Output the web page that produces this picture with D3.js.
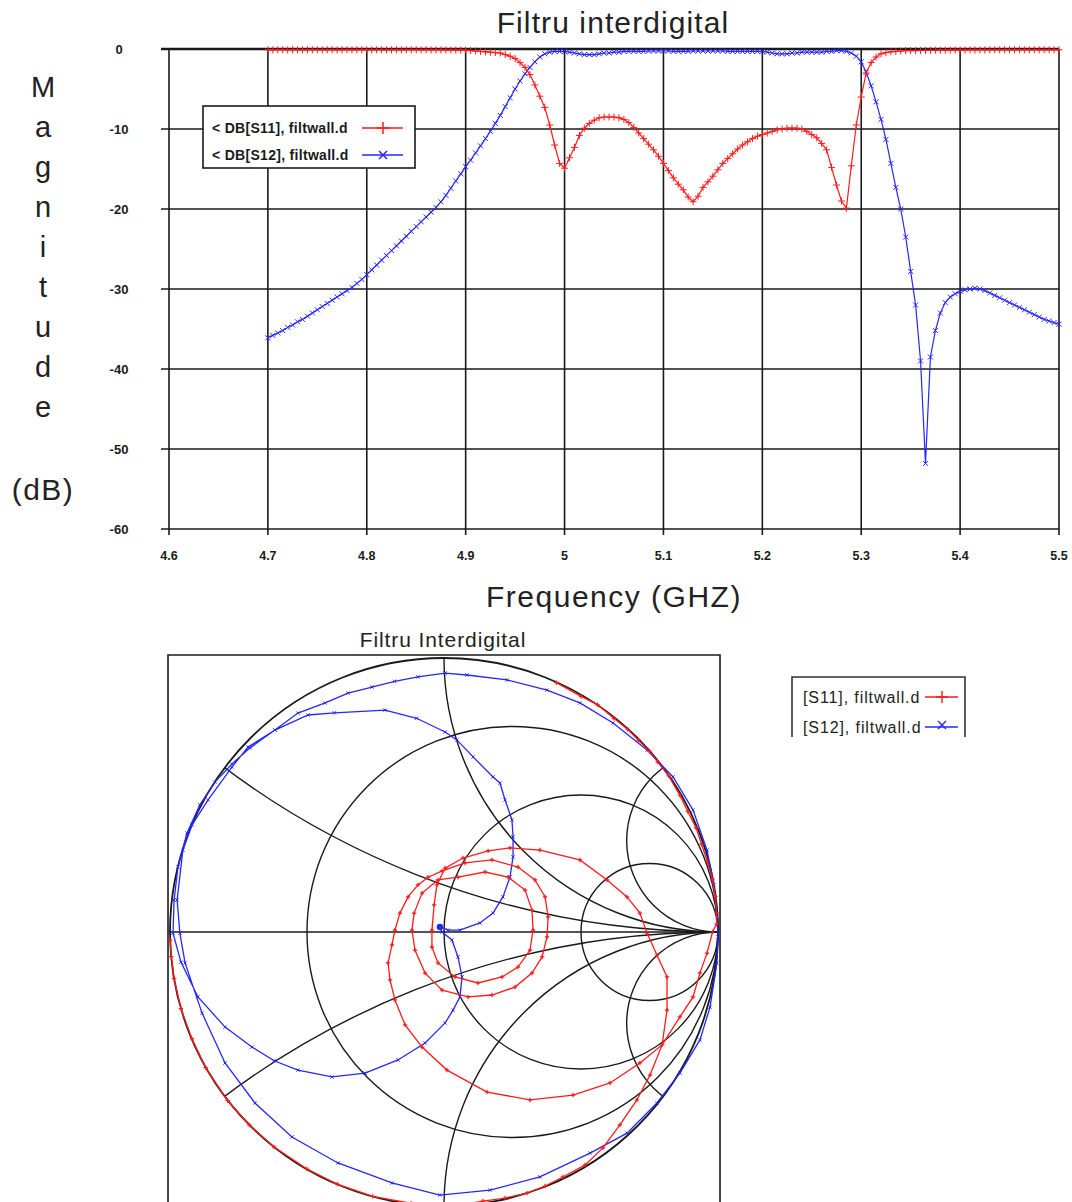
<!DOCTYPE html>
<html><head><meta charset="utf-8">
<script src="https://cdn.jsdelivr.net/npm/d3@7"></script>
<style>body{margin:0;background:#fff}svg{display:block}text{font-family:"Liberation Sans",Arial,sans-serif}</style>
</head><body><svg id="c" width="1072" height="1202"></svg>
<script>
// ---------- DATA ----------
const freq=[
4.700,4.705,4.710,4.715,4.720,4.725,4.730,4.735,4.740,4.745,
4.750,4.755,4.760,4.765,4.770,4.775,4.780,4.785,4.790,4.795,
4.800,4.805,4.810,4.815,4.820,4.825,4.830,4.835,4.840,4.845,
4.850,4.855,4.860,4.865,4.870,4.875,4.880,4.885,4.890,4.895,
4.900,4.905,4.910,4.915,4.920,4.925,4.930,4.935,4.940,4.945,
4.950,4.955,4.960,4.965,4.970,4.975,4.980,4.985,4.990,4.995,
5.000,5.005,5.010,5.015,5.020,5.025,5.030,5.035,5.040,5.045,
5.050,5.055,5.060,5.065,5.070,5.075,5.080,5.085,5.090,5.095,
5.100,5.105,5.110,5.115,5.120,5.125,5.130,5.135,5.140,5.145,
5.150,5.155,5.160,5.165,5.170,5.175,5.180,5.185,5.190,5.195,
5.200,5.205,5.210,5.215,5.220,5.225,5.230,5.235,5.240,5.245,
5.250,5.255,5.260,5.265,5.270,5.275,5.280,5.285,5.290,5.295,
5.300,5.305,5.310,5.315,5.320,5.325,5.330,5.335,5.340,5.345,
5.350,5.355,5.360,5.365,5.370,5.375,5.380,5.385,5.390,5.395,
5.400,5.405,5.410,5.415,5.420,5.425,5.430,5.435,5.440,5.445,
5.450,5.455,5.460,5.465,5.470,5.475,5.480,5.485,5.490,5.495,
5.500];
const s11dB=[
-0.1,-0.12,-0.1,-0.1,-0.12,-0.1,-0.1,-0.12,-0.1,-0.1,
-0.1,-0.12,-0.1,-0.1,-0.12,-0.1,-0.1,-0.12,-0.1,-0.1,
-0.1,-0.12,-0.1,-0.1,-0.12,-0.1,-0.1,-0.12,-0.1,-0.1,
-0.1,-0.12,-0.1,-0.12,-0.12,-0.12,-0.13,-0.13,-0.14,-0.14,
-0.15,-0.2,-0.25,-0.3,-0.35,-0.4,-0.45,-0.5,-0.7,-0.9,
-1.2,-1.7,-2.3,-3.2,-4.5,-5.9,-7.3,-9.5,-12.0,-14.3,
-14.9,-13.6,-12.3,-10.8,-9.9,-9.3,-8.9,-8.6,-8.5,-8.5,
-8.5,-8.6,-8.8,-9.2,-9.8,-10.5,-11.2,-11.9,-12.6,-13.4,
-14.3,-15.2,-16.1,-16.9,-17.6,-18.5,-19.1,-18.4,-17.3,-16.6,
-15.9,-15.1,-14.3,-13.7,-13.1,-12.5,-12.0,-11.6,-11.2,-10.9,
-10.7,-10.5,-10.3,-10.1,-10.0,-9.9,-9.9,-9.9,-10.0,-10.3,
-10.7,-11.1,-11.8,-12.6,-14.8,-17.0,-19.0,-19.9,-14.6,-9.5,
-6.0,-3.0,-1.7,-1.0,-0.6,-0.45,-0.35,-0.3,-0.25,-0.2,
-0.2,-0.2,-0.18,-0.18,-0.16,-0.16,-0.15,-0.15,-0.14,-0.14,
-0.13,-0.13,-0.12,-0.12,-0.12,-0.11,-0.11,-0.11,-0.1,-0.1,
-0.1,-0.1,-0.1,-0.1,-0.1,-0.1,-0.1,-0.1,-0.1,-0.1,
-0.1];
const s12dB=[
-36.1,-35.8,-35.5,-35.2,-34.8,-34.5,-34.1,-33.8,-33.4,-33.0,
-32.6,-32.2,-31.8,-31.4,-31.0,-30.6,-30.2,-29.8,-29.3,-28.8,
-28.2,-27.6,-27.0,-26.4,-25.8,-25.2,-24.6,-24.0,-23.4,-22.8,
-22.2,-21.6,-21.0,-20.4,-19.8,-19.1,-18.3,-17.4,-16.5,-15.6,
-14.7,-13.9,-13.0,-12.1,-11.2,-10.3,-9.3,-8.3,-7.2,-6.1,
-5.0,-4.0,-3.1,-2.3,-1.6,-1.0,-0.6,-0.4,-0.3,-0.3,
-0.3,-0.4,-0.5,-0.6,-0.7,-0.7,-0.7,-0.6,-0.5,-0.5,
-0.4,-0.4,-0.3,-0.3,-0.3,-0.3,-0.3,-0.25,-0.25,-0.25,
-0.25,-0.25,-0.3,-0.3,-0.3,-0.3,-0.25,-0.25,-0.25,-0.25,
-0.25,-0.25,-0.25,-0.3,-0.3,-0.3,-0.3,-0.3,-0.3,-0.3,
-0.3,-0.4,-0.5,-0.6,-0.6,-0.6,-0.5,-0.5,-0.4,-0.4,
-0.4,-0.4,-0.4,-0.3,-0.3,-0.2,-0.2,-0.3,-0.5,-0.9,
-1.6,-2.9,-4.6,-6.6,-8.8,-11.3,-14.3,-17.3,-20.0,-23.5,
-27.8,-32.0,-39.0,-51.8,-38.5,-35.2,-33.0,-31.7,-31.0,-30.6,
-30.3,-30.1,-30.0,-29.9,-30.0,-30.2,-30.5,-30.8,-31.1,-31.4,
-31.7,-32.0,-32.3,-32.6,-32.9,-33.2,-33.5,-33.8,-34.0,-34.2,
-34.4];
const xTicks=[4.6,4.7,4.8,4.9,5.0,5.1,5.2,5.3,5.4,5.5];
const xTickLabels=["4.6","4.7","4.8","4.9","5","5.1","5.2","5.3","5.4","5.5"];
const yTicks=[0,-10,-20,-30,-40,-50,-60];
const topTitle="Filtru interdigital";
const xTitle="Frequency (GHZ)";
const yTitle="Magnitude";
const yUnit="(dB)";
const topLegend=["< DB[S11], filtwall.d","< DB[S12], filtwall.d"];

// Smith chart: reflection coefficient (re, im)
const s11Re=[0.41,0.50,0.56,0.62,0.67,0.71,0.75,0.78,0.82,0.86,0.89,0.92,0.94,0.96,0.98,0.99,0.995,0.995,0.98,
0.96,0.934,0.909,0.861,0.796,
0.715,0.606,0.471,0.314,0.157,0.011,-0.08,-0.142,-0.179,-0.197,-0.204,-0.19,-0.179,-0.161,-0.131,-0.095,-0.058,
-0.007,0.077,0.175,0.27,0.332,0.369,0.38,0.376,0.358,0.321,0.259,0.175,0.088,-0.007,-0.069,-0.106,-0.117,-0.109,-0.08,-0.022,
0.051,0.15,0.234,0.296,0.321,0.325,0.314,0.27,0.212,0.124,0.04,-0.022,-0.044,-0.044,-0.036,-0.026,0.004,
0.069,0.161,0.241,0.35,0.496,0.595,0.668,0.715,0.741,0.777,0.814,0.814,0.796,
0.752,0.704,0.642,0.58,0.515,0.434,0.369,0.303,0.223,0.142,
0.07,0.0,-0.12,-0.26,-0.39,-0.50,-0.62,-0.71,-0.79,-0.87,-0.92,-0.96,-0.985,-0.995,-1.0];
const s11Im=[0.91,0.86,0.83,0.78,0.74,0.70,0.66,0.62,0.57,0.50,0.44,0.38,0.32,0.26,0.19,0.13,0.07,0.03,0.0,
-0.077,-0.15,-0.237,-0.31,-0.412,
-0.478,-0.551,-0.595,-0.613,-0.584,-0.504,-0.42,-0.339,-0.248,-0.175,-0.113,-0.047,0.007,0.069,0.128,0.172,0.2,
0.223,0.252,0.263,0.237,0.19,0.128,0.055,-0.018,-0.091,-0.15,-0.201,-0.23,-0.237,-0.212,-0.15,-0.066,0.007,0.069,0.142,0.19,
0.2,0.219,0.2,0.153,0.08,0.007,-0.066,-0.128,-0.164,-0.186,-0.164,-0.113,-0.055,0.007,0.099,0.172,0.233,
0.27,0.296,0.307,0.299,0.263,0.19,0.128,0.069,-0.004,-0.084,-0.164,-0.285,-0.412,
-0.522,-0.613,-0.704,-0.788,-0.85,-0.894,-0.927,-0.953,-0.971,-0.982,
-0.995,-1.0,-0.99,-0.965,-0.92,-0.865,-0.785,-0.705,-0.615,-0.495,-0.39,-0.28,-0.17,-0.09,-0.03];
const s12Re=[-0.015,-0.007,0.029,0.051,0.066,0.058,0.033,0.004,-0.069,-0.168,-0.288,-0.409,-0.533,-0.62,-0.701,-0.799,-0.898,-0.96,-0.989,
-0.985,-0.971,-0.938,-0.891,-0.836,-0.774,-0.708,-0.617,-0.533,-0.434,-0.35,-0.263,-0.18,-0.095,0.004,0.084,0.23,0.376,0.496,0.617,0.741,0.836,0.909,0.96,0.985,0.996,1.0,0.996,0.971,0.934,0.861,0.777,0.668,0.533,0.35,0.168,-0.015,-0.19,-0.387,-0.555,-0.69,-0.799,-0.883,-0.945,-0.964,-0.974,-0.953,-0.92,-0.861,-0.774,-0.715,-0.617,
-0.496,-0.4,-0.215,-0.1,0.004,0.047,0.106,0.179,0.204,0.223,0.248,0.252,0.252,0.241,0.215,0.179,0.131,0.058,0.015,-0.011,-0.015];
const s12Im=[0.018,0.0,-0.029,-0.091,-0.164,-0.237,-0.285,-0.332,-0.405,-0.467,-0.515,-0.529,-0.504,-0.47,-0.42,-0.347,-0.237,-0.11,-0.004,
0.117,0.237,0.361,0.464,0.547,0.613,0.672,0.737,0.799,0.836,0.872,0.894,0.915,0.931,0.945,0.938,0.92,0.883,0.836,0.763,0.664,0.566,0.445,0.299,0.172,0.055,-0.018,-0.113,-0.274,-0.394,-0.515,-0.624,-0.734,-0.807,-0.894,-0.942,-0.96,-0.916,-0.843,-0.748,-0.624,-0.478,-0.296,-0.113,-0.004,0.117,0.299,0.39,0.482,0.602,0.675,0.737,
0.792,0.8,0.81,0.78,0.73,0.701,0.639,0.566,0.544,0.482,0.409,0.347,0.274,0.201,0.128,0.069,0.033,0.007,0.007,0.018,0.022];
const smithR=[0,0.3333,1,3];
const smithX=[0.3333,1,3];
const smithTitle="Filtru Interdigital";
const smithLegend=["[S11], filtwall.d","[S12], filtwall.d"];

// ---------- DRAW ----------
const RED="#ff1a1a", BLUE="#2626ff", INK="#1a1a1a";
const svg=d3.select('#c');
const plus=(px,py,s)=>`M${px-s},${py}H${px+s}M${px},${py-s}V${py+s}`;
const cross=(px,py,s)=>`M${px-s},${py-s}L${px+s},${py+s}M${px+s},${py-s}L${px-s},${py+s}`;

// top chart
const x=d3.scaleLinear().domain([4.6,5.5]).range([169,1059]);
const y=d3.scaleLinear().domain([-60,0]).range([529,49]);
const gTop=svg.append('g');
gTop.selectAll('line.vg').data(xTicks).join('line').attr('class','vg')
  .attr('x1',d=>x(d)).attr('x2',d=>x(d)).attr('y1',y(0)).attr('y2',y(-60)+6)
  .attr('stroke',INK).attr('stroke-width',1.6);
gTop.selectAll('line.hg').data(yTicks).join('line').attr('class','hg')
  .attr('x1',x(4.6)-8).attr('x2',x(5.5)).attr('y1',d=>y(d)).attr('y2',d=>y(d))
  .attr('stroke',INK).attr('stroke-width',d=>d===0?2.6:1.6);
gTop.selectAll('text.xl').data(xTicks).join('text').attr('class','xl')
  .attr('x',d=>x(d)).attr('y',y(-60)+31).attr('text-anchor','middle')
  .attr('font-size',12.5).attr('font-weight','bold').attr('fill',INK)
  .text((d,i)=>xTickLabels[i]);
gTop.selectAll('text.yl').data(yTicks).join('text').attr('class','yl')
  .attr('x',x(4.6)-50).attr('y',d=>y(d)).attr('dy','0.35em').attr('text-anchor','middle')
  .attr('font-size',13).attr('font-weight','bold').attr('fill',INK)
  .text(d=>d);

const idx=d3.range(freq.length);
const l11=d3.line().x(i=>x(freq[i])).y(i=>y(s11dB[i]));
const l12=d3.line().x(i=>x(freq[i])).y(i=>y(s12dB[i]));
gTop.append('path').attr('d',l12(idx)).attr('fill','none').attr('stroke',BLUE).attr('stroke-width',1.2);
gTop.append('path').attr('d',idx.map(i=>cross(x(freq[i]),y(s12dB[i]),2.5)).join('')).attr('stroke',BLUE).attr('stroke-width',1).attr('fill','none');
gTop.append('path').attr('d',l11(idx)).attr('fill','none').attr('stroke',RED).attr('stroke-width',1.2);
gTop.append('path').attr('d',idx.map(i=>plus(x(freq[i]),y(s11dB[i]),3.5)).join('')).attr('stroke',RED).attr('stroke-width',1).attr('fill','none');

// legend top
const lg=gTop.append('g');
lg.append('rect').attr('x',203).attr('y',106).attr('width',212).attr('height',62).attr('fill','#fff').attr('stroke',INK).attr('stroke-width',1.6);
[[RED,plus],[BLUE,cross]].forEach((s,i)=>{
  const cy=128+i*27;
  lg.append('text').attr('x',212).attr('y',cy).attr('dy','0.35em').attr('font-size',14).attr('font-weight','bold').attr('fill',INK).attr('letter-spacing',0.3).text(topLegend[i]);
  lg.append('line').attr('x1',362).attr('x2',403).attr('y1',cy).attr('y2',cy).attr('stroke',s[0]).attr('stroke-width',1.4);
  lg.append('path').attr('d',i===0?plus(383,cy,6):cross(383,cy,4)).attr('stroke',s[0]).attr('stroke-width',1.5);
});

// titles
const T="#222";
svg.append('text').attr('x',613).attr('y',33).attr('text-anchor','middle').attr('font-size',30).attr('letter-spacing',1.1).attr('fill',T).text(topTitle);
svg.append('text').attr('x',614).attr('y',607).attr('text-anchor','middle').attr('font-size',30).attr('letter-spacing',1.5).attr('fill',T).text(xTitle);
svg.selectAll('text.yt').data(yTitle.split('')).join('text').attr('class','yt')
  .attr('x',43).attr('y',(d,i)=>97+40*i).attr('text-anchor','middle').attr('font-size',29).attr('fill',T).text(d=>d);
svg.append('text').attr('x',43).attr('y',500).attr('text-anchor','middle').attr('font-size',30).attr('letter-spacing',1.5).attr('fill',T).text(yUnit);

// ---------- Smith chart ----------
const sx=d3.scaleLinear().domain([-1,1]).range([170,718]);
const sy=d3.scaleLinear().domain([-1,1]).range([1206,658]);
const R=sx(1)-sx(0);
const sm=svg.append('g');
svg.append('defs').append('clipPath').attr('id','uc').append('circle').attr('cx',sx(0)).attr('cy',sy(0)).attr('r',R);
sm.append('path').attr('d',`M168,1202V655H720V1202`).attr('fill','none').attr('stroke',INK).attr('stroke-width',1.6);
sm.selectAll('circle.rc').data(smithR).join('circle').attr('class','rc')
  .attr('cx',d=>sx(d/(1+d))).attr('cy',sy(0)).attr('r',d=>R/(1+d))
  .attr('fill','none').attr('stroke',INK).attr('stroke-width',d=>d===0?1.8:1.4);
const arcs=smithX.flatMap(v=>[v,-v]);
sm.append('g').attr('clip-path','url(#uc)').selectAll('circle').data(arcs).join('circle')
  .attr('cx',sx(1)).attr('cy',d=>sy(1/d)).attr('r',d=>R/Math.abs(d))
  .attr('fill','none').attr('stroke',INK).attr('stroke-width',1.4);
sm.append('line').attr('x1',sx(-1)-1).attr('x2',sx(1)+1).attr('y1',sy(0)).attr('y2',sy(0)).attr('stroke',INK).attr('stroke-width',1.6);

const i11=d3.range(s11Re.length), i12=d3.range(s12Re.length);
const sl11=d3.line().x(i=>sx(s11Re[i])).y(i=>sy(s11Im[i]));
const sl12=d3.line().x(i=>sx(s12Re[i])).y(i=>sy(s12Im[i]));
sm.append('path').attr('d',sl12(i12)).attr('fill','none').attr('stroke',BLUE).attr('stroke-width',1.3);
sm.append('path').attr('d',i12.map(i=>cross(sx(s12Re[i]),sy(s12Im[i]),1.6)).join('')).attr('stroke',BLUE).attr('stroke-width',1);
sm.append('circle').attr('cx',sx(s12Re[0])).attr('cy',sy(s12Im[0])).attr('r',3.2).attr('fill',BLUE);
sm.append('path').attr('d',sl11(i11)).attr('fill','none').attr('stroke',RED).attr('stroke-width',1.3);
sm.append('path').attr('d',i11.map(i=>plus(sx(s11Re[i]),sy(s11Im[i]),2.2)).join('')).attr('stroke',RED).attr('stroke-width',1.2);

svg.append('text').attr('x',443).attr('y',647).attr('text-anchor','middle').attr('font-size',21).attr('letter-spacing',0.9).attr('fill',T).text(smithTitle);
const sg=svg.append('g');
sg.append('path').attr('d','M792,737V677H965V737').attr('fill','none').attr('stroke','#333').attr('stroke-width',1.6);
[[RED,plus],[BLUE,cross]].forEach((s,i)=>{
  const cy=697+i*30;
  sg.append('text').attr('x',803).attr('y',cy).attr('dy','0.35em').attr('font-size',16).attr('letter-spacing',0.9).attr('fill',T).text(smithLegend[i]);
  sg.append('line').attr('x1',925).attr('x2',958).attr('y1',cy).attr('y2',cy).attr('stroke',s[0]).attr('stroke-width',1.4);
  sg.append('path').attr('d',i===0?plus(942,cy,6):cross(942,cy-2,4)).attr('stroke',s[0]).attr('stroke-width',1.4);
});
</script></body></html>
